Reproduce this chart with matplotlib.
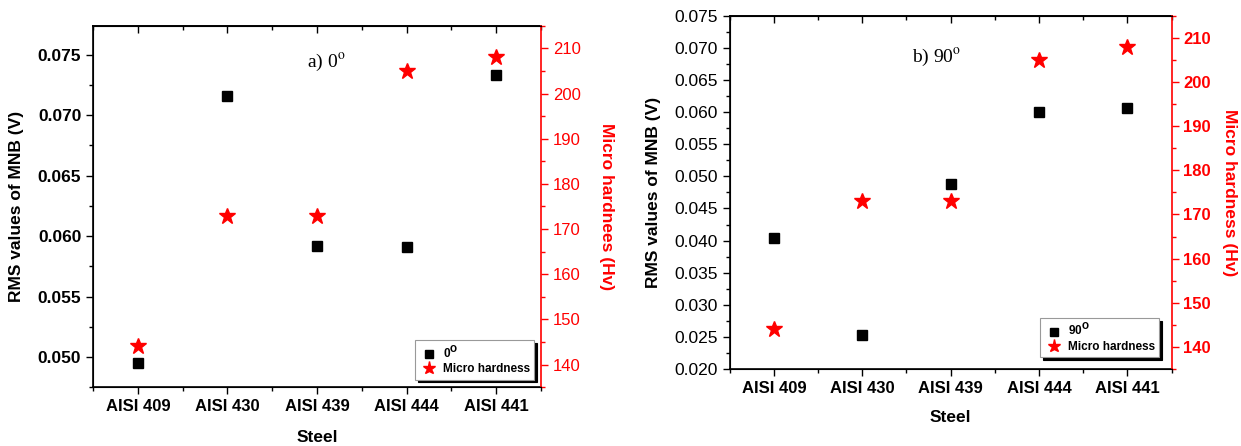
import matplotlib.pyplot as plt
from matplotlib.ticker import MultipleLocator

steels = ['AISI 409', 'AISI 430', 'AISI 439', 'AISI 444', 'AISI 441']
rms_0deg = [0.0495, 0.0716, 0.0592, 0.0591, 0.0733]
rms_90deg = [0.0404, 0.0253, 0.0488, 0.0600, 0.0606]
micro_hardness = [144, 173, 173, 205, 208]

rms_ticks_a = [0.050, 0.055, 0.060, 0.065, 0.070, 0.075]
rms_ticks_b = [0.020, 0.025, 0.030, 0.035, 0.040, 0.045, 0.050,
               0.055, 0.060, 0.065, 0.070, 0.075]

plt.rcParams['font.family'] = ['Liberation Sans', 'DejaVu Sans']

fig = plt.figure(figsize=(12.41, 4.46), dpi=100)


def panel(rect, rms, rms_label, ylim, yticks, left_bold, right_bold,
          hard_label, tag, tag_xy, ylab_x, hlab_x, xlab_y, leg_anchor):
    xs = list(range(1, len(steels) + 1))
    ax = fig.add_axes(rect)
    ax.plot(xs, rms, 's', color='black', ms=7, label=rms_label)
    ax.set_xlim(0.5, len(steels) + 0.5)
    ax.set_ylim(*ylim)
    ax.set_xticks(xs)
    ax.set_xticklabels(steels, fontsize=12, fontweight='bold')
    ax.xaxis.set_minor_locator(MultipleLocator(0.5))
    ax.set_yticks(yticks)
    ax.set_yticklabels(['%.3f' % t for t in yticks], fontsize=12.5,
                       fontweight='bold' if left_bold else 'normal')
    ax.yaxis.set_minor_locator(MultipleLocator(0.0025))
    ax.tick_params(which='major', direction='out', length=5, width=1)
    ax.tick_params(which='minor', direction='out', length=3, width=1)
    ax.spines['right'].set_visible(False)
    for s in ['left', 'top', 'bottom']:
        ax.spines[s].set_linewidth(1.2)

    # top axis: ticks pointing inwards, no labels
    top = ax.secondary_xaxis('top')
    top.set_xticks(xs)
    top.xaxis.set_minor_locator(MultipleLocator(0.5))
    top.tick_params(which='major', direction='in', length=5, width=1, labeltop=False)
    top.tick_params(which='minor', direction='in', length=3, width=1)
    top.spines['top'].set_linewidth(1.2)

    ax.set_ylabel('RMS values of MNB (V)', fontsize=12.5, fontweight='bold')
    ax.yaxis.label.set_verticalalignment('center')
    ax.yaxis.set_label_coords(ylab_x, 0.5)
    ax.set_xlabel('Steel', fontsize=12.5, fontweight='bold')
    ax.xaxis.label.set_verticalalignment('center')
    ax.xaxis.set_label_coords(0.5, xlab_y)

    ax.text(tag_xy[0], tag_xy[1], tag, transform=ax.transAxes, ha='center',
            va='center', fontsize=14, family='Liberation Serif', math_fontfamily='stix')

    ax2 = ax.twinx()
    ax2.plot(xs, micro_hardness, '*', color='red', ms=12, label='Micro hardness')
    ax2.set_ylim(135, 215)
    ax2.yaxis.set_major_locator(MultipleLocator(10))
    ax2.yaxis.set_minor_locator(MultipleLocator(5))
    ax2.tick_params(axis='y', which='both', colors='red', direction='out', width=1)
    ax2.tick_params(axis='y', which='major', length=5, labelsize=12)
    ax2.tick_params(axis='y', which='minor', length=3)
    if right_bold:
        for t in ax2.get_yticklabels():
            t.set_fontweight('bold')
    ax2.spines['right'].set_color('red')
    ax2.spines['right'].set_linewidth(1.2)
    ax2.set_ylabel(hard_label, color='red', fontsize=12.5, fontweight='bold', rotation=-90)
    ax2.yaxis.label.set_verticalalignment('center')
    ax2.yaxis.set_label_coords(hlab_x, 0.5)

    h1, l1 = ax.get_legend_handles_labels()
    h2, l2 = ax2.get_legend_handles_labels()
    leg = ax2.legend(h1 + h2, l1 + l2, loc='lower right', bbox_to_anchor=leg_anchor,
                     prop={'weight': 'bold', 'size': 8.5}, fancybox=False,
                     edgecolor='#999999', framealpha=1, markerscale=0.8,
                     handletextpad=0.4, borderpad=0.35, labelspacing=0.2,
                     handlelength=1.6, borderaxespad=0.3,
                     shadow={'color': 'black', 'alpha': 1})
    leg.get_frame().set_linewidth(0.8)
    return ax, ax2


panel([0.075, 0.132, 0.361, 0.81], rms_0deg, r'0$^\mathbf{O}$',
      (0.0475, 0.0774), rms_ticks_a, True, False, 'Micro hardnees (Hv)',
      r'a) 0$^{\rm o}$', (0.52, 0.90), -0.172, 1.145, -0.1385, (0.993, 0.011))

panel([0.588, 0.173, 0.356, 0.791], rms_90deg, r'90$^\mathbf{O}$',
      (0.020, 0.075), rms_ticks_b, False, True, 'Micro hardness (Hv)',
      r'b) 90$^{\rm o}$', (0.468, 0.884), -0.172, 1.131, -0.139, (0.98, 0.023))

plt.savefig('out.png', dpi=100)
